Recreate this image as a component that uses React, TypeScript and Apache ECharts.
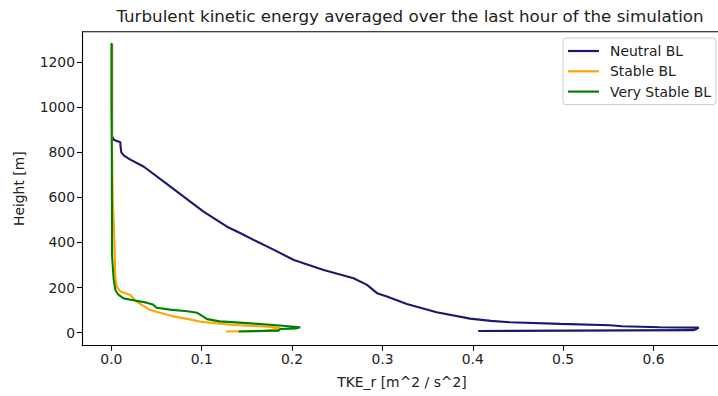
import React, { useEffect, useRef } from "react";
import * as echarts from "echarts";

// Turbulent kinetic energy profiles (TKE in m^2/s^2, height in m)
const neutralTke = [0.0008, 0.0008, 0.0008, 0.003, 0.01, 0.01, 0.011, 0.014, 0.02, 0.036, 0.058, 0.08, 0.102, 0.128, 0.143, 0.161, 0.18, 0.202, 0.235, 0.268, 0.283, 0.294, 0.305, 0.327, 0.36, 0.397, 0.42, 0.441, 0.497, 0.552, 0.565, 0.607, 0.65, 0.647, 0.644, 0.406];
const neutralHeight = [1280, 1000, 870, 855, 845, 832, 800, 785, 770, 736, 670, 603, 537, 470, 441, 404, 367, 322, 278, 241, 212, 175, 160, 127, 90, 62, 52, 46, 39, 33, 28, 24, 22, 15, 11, 7];

const stableTke = [0.0004, 0.0004, 0.0008, 0.0015, 0.003, 0.0044, 0.006, 0.01, 0.021, 0.027, 0.035, 0.043, 0.054, 0.069, 0.085, 0.098, 0.135, 0.183, 0.187, 0.17, 0.127];
const stableHeight = [1280, 1000, 800, 600, 455, 248, 204, 182, 167, 140, 120, 100, 88, 72, 60, 49, 34, 24, 19, 8, 5];

const veryStableTke = [0.0002, 0.0002, 0.0005, 0.0006, 0.0008, 0.0026, 0.0044, 0.008, 0.0136, 0.023, 0.039, 0.046, 0.05, 0.065, 0.084, 0.095, 0.1, 0.106, 0.12, 0.15, 0.183, 0.209, 0.205, 0.187, 0.185, 0.141];
const veryStableHeight = [1285, 1000, 800, 600, 337, 234, 189, 167, 152, 145, 133, 125, 110, 102, 95, 88, 75, 60, 50, 42, 33, 24, 19, 16, 9, 5];

const xTicks = [0, 0.1, 0.2, 0.3, 0.4, 0.5, 0.6];
const yTicks = [0, 200, 400, 600, 800, 1000, 1200];

const seriesNames = ["Neutral BL", "Stable BL", "Very Stable BL"];
const seriesColors = ["#191970", "#ffa500", "#008000"];

const FONT = "DejaVu Sans";

const GRID_LEFT = 82;
const GRID_TOP = 31.7;

function pairs(xs: number[], ys: number[]) {
  return xs.map((x, i) => [x, ys[i]]);
}

export default function App() {
  const ref = useRef<HTMLDivElement>(null);

  useEffect(() => {
    if (!ref.current) return;
    const chart = echarts.init(ref.current, null, { renderer: "svg" });
    const profiles = [
      pairs(neutralTke, neutralHeight),
      pairs(stableTke, stableHeight),
      pairs(veryStableTke, veryStableHeight),
    ];

    const axisCommon = {
      type: "value" as const,
      splitLine: { show: false },
      axisLine: { show: true, onZero: false, lineStyle: { color: "#000", width: 1.1 } },
      axisTick: { show: true, length: 5, lineStyle: { color: "#000", width: 1.1 } },
      nameTextStyle: { fontFamily: FONT, fontSize: 13.9, color: "#222" },
    };

    chart.setOption({
      animation: false,
      backgroundColor: "#fff",
      title: {
        text: "Turbulent kinetic energy averaged over the last hour of the simulation",
        left: 405,
        textAlign: "center",
        top: 2,
        textStyle: { fontFamily: FONT, fontSize: 16.7, fontWeight: "normal", color: "#222" },
      },
      legend: {
        orient: "vertical",
        left: 563,
        top: 38,
        padding: [6, 5, 6, 5],
        itemGap: 6.3,
        itemWidth: 31,
        itemHeight: 2.2,
        icon: "rect",
        backgroundColor: "rgba(255,255,255,0.85)",
        borderColor: "#cccccc",
        borderWidth: 1,
        borderRadius: 3,
        textStyle: { fontFamily: FONT, fontSize: 13.9, color: "#222", padding: [0, 0, 0, 6] },
        data: seriesNames,
      },
      // top spine of the axes box (the right spine lies outside the canvas)
      graphic: [
        {
          type: "line",
          shape: { x1: GRID_LEFT, y1: GRID_TOP, x2: 718, y2: GRID_TOP },
          style: { stroke: "#000", lineWidth: 1.1 },
          z: 10,
        },
      ],
      grid: { left: GRID_LEFT, right: 0, top: GRID_TOP, bottom: 50.3 },
      xAxis: {
        ...axisCommon,
        min: -0.0325,
        max: 0.6714,
        name: "TKE_r [m^2 / s^2]",
        nameLocation: "middle",
        nameGap: 29,
        nameTextStyle: { ...axisCommon.nameTextStyle, padding: [0, 0, 0, 4] },
        axisTick: { ...axisCommon.axisTick, customValues: xTicks },
        axisLabel: {
          customValues: xTicks,
          formatter: (v: number) => v.toFixed(1),
          fontFamily: FONT,
          fontSize: 13.9,
          color: "#222",
          margin: 6,
        },
      },
      yAxis: {
        ...axisCommon,
        min: -58,
        max: 1335,
        name: "Height [m]",
        nameLocation: "middle",
        nameGap: 56,
        axisTick: { ...axisCommon.axisTick, customValues: yTicks },
        axisLabel: {
          customValues: yTicks,
          formatter: (v: number) => String(v),
          fontFamily: FONT,
          fontSize: 13.9,
          color: "#222",
          margin: 7,
        },
      },
      series: seriesNames.map((name, i) => ({
        name,
        type: "line",
        data: profiles[i],
        showSymbol: false,
        symbol: "none",
        color: seriesColors[i],
        lineStyle: { color: seriesColors[i], width: 2.1 },
        z: 2 + i,
      })),
    });

    return () => chart.dispose();
  }, []);

  return <div ref={ref} style={{ width: 718, height: 396, position: "absolute", left: 0, top: 0 }} />;
}
